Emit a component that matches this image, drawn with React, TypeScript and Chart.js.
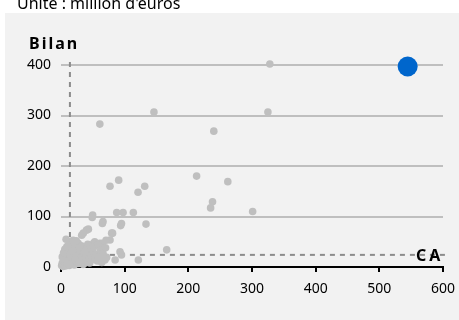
import React, { useEffect, useRef } from "react";
import { Chart, registerables } from "chart.js";

Chart.register(...registerables);

const titleText = "Unité : million d'euros";
const yAxisLabel = "Bilan";
const xAxisLabel = "CA";
const xTicks = [0, 100, 200, 300, 400, 500, 600];
const yTicks = [0, 100, 200, 300, 400];

// Company points: CA (x) and Bilan (y)
const caValues = [
  328, 325, 146, 61, 240, 77, 90.6, 121, 131.5, 213, 262, 238, 235, 301,
  49.7, 49, 87.5, 97.5, 113.6, 95, 93.7, 133.5, 66, 65, 81, 79.6, 77, 70.7,
  61, 51, 65, 43, 40, 35, 32.5, 53, 92.7, 95, 85, 69, 71.7, 121.5, 166, 19, 14,
  1, 2, 3, 4, 5, 6, 7, 8, 9, 10, 11, 12, 13, 14, 15, 16, 17, 18, 19, 20, 21,
  22, 23, 24, 25, 26, 27, 28, 29, 30, 31, 32, 33, 34, 35, 36, 37, 38, 39, 40,
  41, 42, 43, 44, 45, 46, 47, 48, 50, 52, 53, 55, 57, 58, 60, 62, 64, 66, 70,
  2, 4, 6, 9, 12, 15, 18, 22, 26, 30, 34, 38, 8, 11, 24, 28,
];
const bilanValues = [
  402, 307, 307, 283, 269, 160, 172, 148, 160, 180, 169, 129, 117, 110,
  103, 98, 108, 108, 108, 86, 82, 85, 90, 86, 67, 67, 53.5, 53,
  47, 47, 47, 75, 73, 67, 63, 50, 30, 24, 14, 14, 19, 14, 34, 53, 50,
  3, 8, 1, 12, 5, 18, 2, 10, 25, 6, 15, 30, 3, 20, 38, 9, 27, 45, 14, 33, 4,
  22, 40, 11, 28, 17, 47, 7, 35, 24, 13, 42, 19, 30, 5, 26, 38, 15, 22, 33,
  10, 45, 28, 18, 8, 36, 23, 14, 30, 40, 19, 25, 12, 44, 20, 33, 9, 27, 38,
  20, 28, 35, 40, 5, 24, 32, 16, 8, 40, 12, 30, 55, 42, 52, 10,
];

// Highlighted company
const highlightCA = [544.5];
const highlightBilan = [397];

// Reference (median) lines
const refCA = 14;
const refBilan = 24;
const refTopBilan = 414;
const refRightCA = 608;

const FONT = "'Noto Sans', 'Liberation Sans', sans-serif";

export default function App() {
  const ref = useRef<HTMLCanvasElement | null>(null);

  useEffect(() => {
    const canvas = ref.current;
    if (!canvas) return;

    const bgPlugin = {
      id: "bgPanel",
      beforeDraw(chart: any) {
        const ctx = chart.ctx;
        ctx.save();
        ctx.fillStyle = "#ffffff";
        ctx.fillRect(0, 0, chart.width, chart.height);
        ctx.fillStyle = "#f2f2f2";
        ctx.fillRect(5, 13, chart.width - 5, chart.height - 13);
        ctx.restore();
      },
      afterDraw(chart: any) {
        const ctx = chart.ctx;
        ctx.save();
        ctx.fillStyle = "#000000";
        ctx.textBaseline = "alphabetic";
        ctx.textAlign = "left";
        ctx.font = `16px ${FONT}`;
        ctx.fillText(titleText, 17, 9);
        ctx.font = `bold 16px ${FONT}`;
        (ctx as any).letterSpacing = "2px";
        ctx.fillText(yAxisLabel, 29, 49);
        (ctx as any).letterSpacing = "3px";
        ctx.fillText(xAxisLabel, 416, 261);
        (ctx as any).letterSpacing = "0px";
        ctx.restore();
      },
    };

    const chart = new Chart(canvas, {
      type: "scatter",
      data: {
        datasets: [
          {
            type: "line",
            data: [
              { x: refCA, y: 0 },
              { x: refCA, y: refTopBilan },
            ],
            borderColor: "#8c8c8c",
            borderWidth: 2,
            borderDash: [5, 5],
            pointRadius: 0,
            fill: false,
            clip: false as any,
            order: 3,
          } as any,
          {
            type: "line",
            data: [
              { x: refCA, y: refBilan },
              { x: refRightCA, y: refBilan },
            ],
            borderColor: "#8c8c8c",
            borderWidth: 2,
            borderDash: [5, 5],
            pointRadius: 0,
            fill: false,
            clip: false as any,
            order: 3,
          } as any,
          {
            data: caValues.map((x, i) => ({ x, y: bilanValues[i] })),
            backgroundColor: "#bfbfbf",
            borderWidth: 0,
            pointRadius: 3.8,
            clip: false as any,
            order: 2,
          },
          {
            data: highlightCA.map((x, i) => ({ x, y: highlightBilan[i] })),
            backgroundColor: "#0066cc",
            borderWidth: 0,
            pointRadius: 10,
            clip: false as any,
            order: 1,
          },
        ],
      },
      options: {
        responsive: false,
        animation: false,
        layout: { padding: { top: 65, right: 16, left: 0, bottom: 0 } },
        plugins: {
          legend: { display: false },
          tooltip: { enabled: false },
          title: { display: false },
        },
        scales: {
          x: {
            type: "linear",
            min: 0,
            max: 600,
            afterBuildTicks: (s: any) => {
              s.ticks = xTicks.map((v) => ({ value: v }));
            },
            afterFit: (s: any) => {
              s.height = 53;
              s.paddingLeft = 0;
              s.paddingRight = 0;
            },
            ticks: {
              color: "#000000",
              font: { family: FONT, size: 14 },
              padding: 9,
              maxRotation: 0,
            },
            grid: {
              display: true,
              drawOnChartArea: false,
              drawTicks: true,
              tickLength: 5,
              color: "#000000",
              lineWidth: 2,
            },
            border: { display: true, color: "#000000", width: 2 },
          },
          y: {
            type: "linear",
            min: 0,
            max: 400,
            afterBuildTicks: (s: any) => {
              s.ticks = yTicks.map((v) => ({ value: v }));
            },
            afterFit: (s: any) => {
              s.width = 61;
              s.paddingTop = 0;
              s.paddingBottom = 0;
            },
            ticks: {
              color: "#000000",
              font: { family: FONT, size: 14 },
              padding: 10,
            },
            grid: {
              display: true,
              drawTicks: false,
              color: "#bfbfbf",
              lineWidth: 2,
            },
            border: { display: false },
          },
        },
      },
      plugins: [bgPlugin],
    });

    return () => chart.destroy();
  }, []);

  return (
    <div style={{ position: "fixed", left: 0, top: 0, width: 459, height: 320 }}>
      <canvas ref={ref} width={459} height={320} style={{ width: 459, height: 320, display: "block" }} />
    </div>
  );
}
